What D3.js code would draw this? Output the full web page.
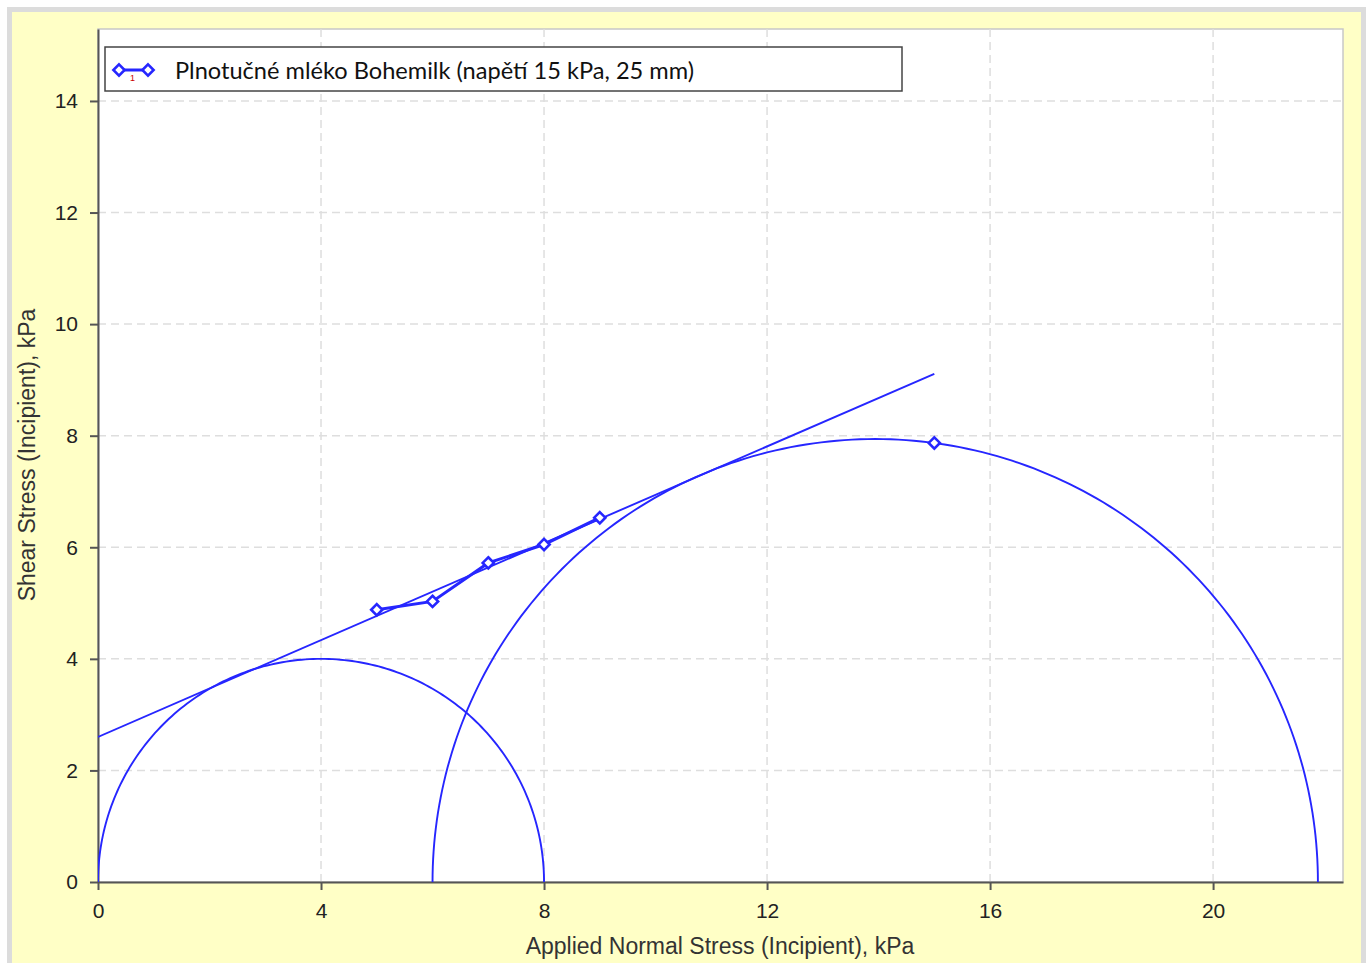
<!DOCTYPE html>
<html>
<head>
<meta charset="utf-8">
<script src="https://cdn.jsdelivr.net/npm/d3@7"></script>
<style>
  body { margin: 0; background: #fff; }
  svg { display: block; }
</style>
</head>
<body>
<script>
// Data
var normalStress = [5, 6, 7, 8, 9];
var shearStress = [4.88, 5.03, 5.72, 6.05, 6.53];
var extraPointX = [15];
var extraPointY = [7.87];
// Mohr circles (minor / major principal stress)
var circleMin = [0, 6];
var circleMax = [8, 21.88];
// yield locus end points
var locusX = [0, 15];
var locusY = [2.60, 9.11];
var xTicks = [0, 4, 8, 12, 16, 20];
var yTicks = [0, 2, 4, 6, 8, 10, 12, 14];
var legendLabel = "Plnotučné mléko Bohemilk (napětí 15 kPa, 25 mm)";

var width = 1370, height = 963;
var plot = {left: 98, right: 1343, top: 29, bottom: 882};
var blue = "#2626ff";

var svg = d3.select("body").append("svg")
  .attr("width", width)
  .attr("height", height);

// background frame
svg.append("rect").attr("x", 0).attr("y", 0).attr("width", width).attr("height", height).attr("fill", "#fff");
svg.append("rect").attr("x", 7).attr("y", 7).attr("width", 1359).attr("height", 960).attr("fill", "#dcdcdc");
svg.append("rect").attr("x", 12).attr("y", 12).attr("width", 1349).attr("height", 955).attr("fill", "#ffffc6");

// Scales
var xScale = d3.scaleLinear().domain([0, 22.33]).range([plot.left, plot.right]);
var yScale = d3.scaleLinear().domain([0, 15.29]).range([plot.bottom, plot.top]);

// plot area
svg.append("rect")
  .attr("x", plot.left).attr("y", plot.top)
  .attr("width", plot.right - plot.left).attr("height", plot.bottom - plot.top)
  .attr("fill", "#fff")
  .attr("stroke", "#c8c8c8").attr("stroke-width", 1.5);

// Gridlines
svg.selectAll(".vgrid")
  .data(xTicks.filter(d => d > 0))
  .enter().append("line")
    .attr("class", "vgrid")
    .attr("x1", d => xScale(d)).attr("x2", d => xScale(d))
    .attr("y1", plot.top).attr("y2", plot.bottom)
    .style("stroke", "#dedede").style("stroke-width", 1.5)
    .style("stroke-dasharray", "8,5");
svg.selectAll(".hgrid")
  .data(yTicks.filter(d => d > 0))
  .enter().append("line")
    .attr("class", "hgrid")
    .attr("x1", plot.left).attr("x2", plot.right)
    .attr("y1", d => yScale(d)).attr("y2", d => yScale(d))
    .style("stroke", "#dedede").style("stroke-width", 1.5)
    .style("stroke-dasharray", "8,5");

// Axes
var xAxis = d3.axisBottom(xScale).tickValues(xTicks).tickSize(8).tickSizeOuter(0);
var yAxis = d3.axisLeft(yScale).tickValues(yTicks).tickSize(8).tickSizeOuter(0);

var gx = svg.append("g")
  .attr("transform", "translate(0," + plot.bottom + ")")
  .call(xAxis);
var gy = svg.append("g")
  .attr("transform", "translate(" + plot.left + ",0)")
  .call(yAxis);

[gx, gy].forEach(function(g) {
  g.select(".domain").attr("stroke", "#555").attr("stroke-width", 2);
  g.selectAll(".tick line").attr("stroke", "#555").attr("stroke-width", 2);
  g.selectAll(".tick text")
    .attr("fill", "#222")
    .style("font-family", "'Liberation Sans', Arial, sans-serif")
    .style("font-size", "21px");
});
gx.selectAll(".tick text").attr("dy", "1.2em");
gy.selectAll(".tick text").attr("x", -20);

// Axis titles
svg.append("text")
  .attr("x", 720).attr("y", 954)
  .attr("text-anchor", "middle")
  .style("font-family", "'Liberation Sans', Arial, sans-serif")
  .style("font-size", "23px").attr("fill", "#333")
  .text("Applied Normal Stress (Incipient), kPa");
svg.append("text")
  .attr("transform", "translate(35,455) rotate(-90)")
  .attr("text-anchor", "middle")
  .style("font-family", "'Liberation Sans', Arial, sans-serif")
  .style("font-size", "23px").attr("fill", "#333")
  .text("Shear Stress (Incipient), kPa");

// clip
svg.append("clipPath").attr("id", "clip")
  .append("rect")
    .attr("x", plot.left).attr("y", plot.top)
    .attr("width", plot.right - plot.left).attr("height", plot.bottom - plot.top);
var g = svg.append("g").attr("clip-path", "url(#clip)");

// Mohr semicircles
var angles = d3.range(0, 181, 1).map(d => d * Math.PI / 180);
var circles = circleMin.map((lo, i) => ({c: (lo + circleMax[i]) / 2, r: (circleMax[i] - lo) / 2}));
g.selectAll(".mohr")
  .data(circles)
  .enter().append("path")
    .attr("class", "mohr")
    .attr("fill", "none")
    .attr("stroke", blue).attr("stroke-width", 1.9)
    .attr("d", function(c) {
      return d3.line()
        .x(a => xScale(c.c + c.r * Math.cos(a)))
        .y(a => yScale(c.r * Math.sin(a)))(angles);
    });

// Yield locus
g.append("path")
  .datum(locusX.map((x, i) => [x, locusY[i]]))
  .attr("fill", "none")
  .attr("stroke", blue).attr("stroke-width", 1.9)
  .attr("d", d3.line().x(d => xScale(d[0])).y(d => yScale(d[1])));

// Measured series
var series = normalStress.map((x, i) => [x, shearStress[i]]);
g.append("path")
  .datum(series)
  .attr("fill", "none")
  .attr("stroke", blue).attr("stroke-width", 3)
  .attr("d", d3.line().x(d => xScale(d[0])).y(d => yScale(d[1])));

var diamond = d3.symbol().type(d3.symbolDiamond2).size(80);
var allPts = series.concat(extraPointX.map((x, i) => [x, extraPointY[i]]));
g.selectAll(".pt")
  .data(allPts)
  .enter().append("path")
    .attr("class", "pt")
    .attr("transform", d => "translate(" + xScale(d[0]) + "," + yScale(d[1]) + ")")
    .attr("d", diamond)
    .attr("fill", "#fff")
    .attr("stroke", blue).attr("stroke-width", 2.6);

// Legend
var leg = svg.append("g");
leg.append("rect")
  .attr("x", 105).attr("y", 47).attr("width", 797).attr("height", 44)
  .attr("fill", "#fff").attr("stroke", "#444").attr("stroke-width", 1.5);
leg.append("line")
  .attr("x1", 119).attr("x2", 148).attr("y1", 70).attr("y2", 70)
  .attr("stroke", blue).attr("stroke-width", 3);
leg.selectAll(".lpt")
  .data([119, 148])
  .enter().append("path")
    .attr("transform", d => "translate(" + d + ",70)")
    .attr("d", diamond)
    .attr("fill", "#fff")
    .attr("stroke", blue).attr("stroke-width", 2.6);
leg.append("text")
  .attr("x", 130).attr("y", 81)
  .attr("fill", "#c00")
  .style("font-family", "'Liberation Sans', Arial, sans-serif")
  .style("font-size", "9px")
  .text("1");
leg.append("text")
  .attr("x", 175).attr("y", 79)
  .attr("fill", "#111")
  .style("font-family", "Lato, 'Open Sans', sans-serif")
  .style("font-size", "23.6px")
  .text(legendLabel);
</script>
</body>
</html>
